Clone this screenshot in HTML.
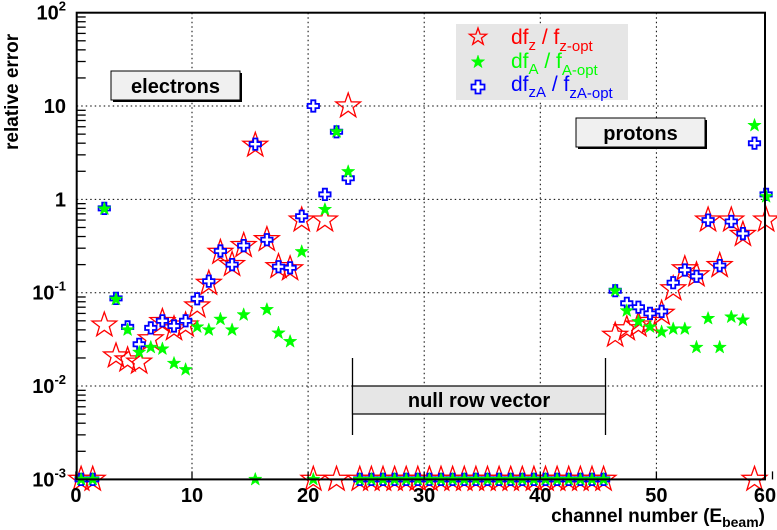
<!DOCTYPE html>
<html><head><meta charset="utf-8"><style>
html,body{margin:0;padding:0;background:#fff;}
svg{display:block;font-family:"Liberation Sans",Arial,sans-serif;}
</style></head><body>
<svg id="chart" width="777" height="530" viewBox="0 0 777 530" xmlns="http://www.w3.org/2000/svg">
<rect x="0" y="0" width="777" height="530" fill="#fff"/>
<g id="grid"></g>
<g id="annot">
  <g>
    <rect x="113" y="73" width="129" height="29" fill="#000"/>
    <rect x="111" y="71" width="129" height="29" fill="#f0f0f0" stroke="#000" stroke-width="1"/>
    <text x="175.5" y="93" text-anchor="middle" font-size="20" font-weight="bold">electrons</text>
  </g>
  <g>
    <rect x="578" y="120" width="129" height="29" fill="#000"/>
    <rect x="576" y="118" width="129" height="29" fill="#f0f0f0" stroke="#000" stroke-width="1"/>
    <text x="640.5" y="140" text-anchor="middle" font-size="20" font-weight="bold">protons</text>
  </g>
  <g>
    <line x1="352.5" y1="358" x2="352.5" y2="435" stroke="#000" stroke-width="1.3"/>
    <line x1="605.5" y1="358" x2="605.5" y2="435" stroke="#000" stroke-width="1.3"/>
    <rect x="352.5" y="386" width="253" height="28" fill="#e6e6e6" stroke="#000" stroke-width="1.2"/>
    <text x="479" y="407" text-anchor="middle" font-size="20" font-weight="bold">null row vector</text>
  </g>
</g>
<g id="marks"></g>
<g id="axes"></g>
<g id="legend">
  <rect x="456" y="24" width="172" height="76" fill="#e6e6e6"/>
  <g>
    <text x="511" y="44" font-size="21" fill="#f00">df<tspan font-size="15" dy="6">z</tspan><tspan dy="-6"> / f</tspan><tspan font-size="15" dy="7">z-opt</tspan></text>
  </g>
  <g>
    <text x="511" y="68" font-size="21" fill="#0f0">df<tspan font-size="15" dy="6">A</tspan><tspan dy="-6">  / f</tspan><tspan font-size="15" dy="7">A-opt</tspan></text>
  </g>
  <g>
    <text x="511" y="91" font-size="21" fill="#00f">df<tspan font-size="15" dy="6">zA</tspan><tspan dy="-6"> / f</tspan><tspan font-size="15" dy="7">zA-opt</tspan></text>
  </g>
</g>
<text x="765" y="522" text-anchor="end" font-size="19" font-weight="bold">channel number (E<tspan font-size="14" dy="5">beam</tspan><tspan dy="-5">)</tspan></text>
<text transform="translate(18,150) rotate(-90)" x="0" y="0" font-size="19" font-weight="bold">relative error</text>
</svg>
<script>
// data (channel n plotted at n+0.45); 0.001 = floor value
const chans = [];
for (let n = 0; n < 60; n++) chans.push(n);
const dfz = [0.001,0.001,0.045,0.021,0.019,0.018,0.032,0.049,0.041,0.045,
 0.072,0.126,0.27,0.20,0.32,3.8,0.37,0.19,0.18,0.60,
 0.001,0.60,0.001,10,0.001,0.001,0.001,0.001,0.001,0.001,
 0.001,0.001,0.001,0.001,0.001,0.001,0.001,0.001,0.001,0.001,
 0.001,0.001,0.001,0.001,0.001,0.001,0.035,0.041,0.045,0.049,
 0.060,0.11,0.18,0.155,0.60,0.195,0.60,0.42,0.001,0.60];
const dfA = [0.001,0.001,0.79,0.085,0.040,0.023,0.026,0.025,0.0175,0.015,
 0.043,0.040,0.052,0.040,0.058,0.001,0.066,0.037,0.030,0.275,
 0.001,0.78,5.3,1.98,0.001,0.001,0.001,0.001,0.001,0.001,
 0.001,0.001,0.001,0.001,0.001,0.001,0.001,0.001,0.001,0.001,
 0.001,0.001,0.001,0.001,0.001,0.001,0.105,0.064,0.049,0.043,
 0.038,0.041,0.041,0.026,0.053,0.026,0.055,0.051,6.2,1.07];
const dfzA = [0.001,0.001,0.80,0.087,0.043,0.028,0.042,0.050,0.044,0.050,
 0.086,0.133,0.28,0.20,0.32,3.9,0.37,0.19,0.185,0.66,
 10,1.13,5.3,1.68,0.001,0.001,0.001,0.001,0.001,0.001,
 0.001,0.001,0.001,0.001,0.001,0.001,0.001,0.001,0.001,0.001,
 0.001,0.001,0.001,0.001,0.001,0.001,0.105,0.077,0.070,0.060,
 0.063,0.128,0.175,0.15,0.60,0.195,0.58,0.43,4.0,1.13];
const xTicks = [0,10,20,30,40,50,60];
const yDecades = [-3,-2,-1,0,1,2];
const yLabels = ["10^-3","10^-2","10^-1","1","10","10^2"];

const NS = "http://www.w3.org/2000/svg";
const L = 76.7, R = 765, T = 12.7, B = 479.4;
const X0 = 75.9, XS = 11.61;
function xs(c){ return X0 + XS * c; }
function ys(v){ return B - (Math.log10(v) + 3) * (B - T) / 5; }
function mk(tag, attrs, parent){
  const e = document.createElementNS(NS, tag);
  for (const k in attrs) e.setAttribute(k, attrs[k]);
  parent.appendChild(e);
  return e;
}
function starPts(cx, cy, r){
  const ri = r * 0.4; let p = [];
  for (let i = 0; i < 10; i++){
    const a = -Math.PI/2 + i * Math.PI/5;
    const rr = i % 2 ? ri : r;
    p.push((cx + rr*Math.cos(a)).toFixed(1) + "," + (cy + rr*Math.sin(a)).toFixed(1));
  }
  return p.join(" ");
}
function crossPts(cx, cy, s, w){
  const p = [[-w,-s],[w,-s],[w,-w],[s,-w],[s,w],[w,w],[w,s],[-w,s],[-w,w],[-s,w],[-s,-w],[-w,-w]];
  return p.map(q => (cx+q[0]).toFixed(1)+","+(cy+q[1]).toFixed(1)).join(" ");
}
const grid = document.getElementById("grid");
xTicks.forEach(t => {
  if (t > 0 && t < 60) {
    const gl = mk("line", {x1: xs(t), x2: xs(t), y1: T, y2: B, stroke: "#000", "stroke-width": 1, "stroke-dasharray": "1.5,3"}, grid);
    
    
  }
});
yDecades.forEach(d => {
  if (d > -3 && d < 2) {
    const gl = mk("line", {x1: L, x2: R, y1: ys(Math.pow(10,d)), y2: ys(Math.pow(10,d)), stroke: "#000", "stroke-width": 1, "stroke-dasharray": "1.5,3"}, grid);
    
    
  }
});
const marks = document.getElementById("marks");
const gz = mk("g", {}, marks);


const gzA = mk("g", {}, marks);


const gA = mk("g", {}, marks);


chans.forEach((n, i) => {
  const cx = xs(n + 0.45);
  const s1 = mk("polygon", {points: starPts(cx, ys(dfz[i]), 13), fill: "none", stroke: "#f00", "stroke-width": 1.3}, gz);
  
  
  const s3 = mk("polygon", {points: crossPts(cx, ys(dfzA[i]), 5.7, 2.1), fill: "#fff", stroke: "#00f", "stroke-width": 1.8}, gzA);
  
  
  const s2 = mk("polygon", {points: starPts(cx, ys(dfA[i]), 7), fill: "#0f0", stroke: "#0f0", "stroke-width": 0.5}, gA);
  
  
});
// legend markers
const lg = document.getElementById("legend");
const lm1 = mk("polygon", {points: starPts(478, 37, 9), fill: "none", stroke: "#f00", "stroke-width": 1.3}, lg);


const lm2 = mk("polygon", {points: starPts(478, 62, 7), fill: "#0f0", stroke: "#0f0", "stroke-width": 0.5}, lg);


const lm3 = mk("polygon", {points: crossPts(478, 87, 6.5, 2.5), fill: "#fff", stroke: "#00f", "stroke-width": 1.8}, lg);


// axes
const axes = document.getElementById("axes");
const fr = mk("rect", {x: L, y: T, width: R - L, height: B - T, fill: "none", stroke: "#000", "stroke-width": 2}, axes);


yDecades.forEach((d, i) => {
  if (d < 2) {
    for (let m = 2; m <= 9; m++) {
      const yy = ys(m * Math.pow(10, d));
      const tk = mk("line", {x1: L, x2: L + 9, y1: yy, y2: yy, stroke: "#000", "stroke-width": 1.3}, axes);
      
      
    }
  }
  const yy = ys(Math.pow(10, d));
  const lab = yLabels[i];
  const t = mk("text", {x: 66, y: yy + 7, "text-anchor": "end", "font-size": 20, "font-weight": "bold"}, axes);
  
  
  if (lab.indexOf("^") >= 0) {
    const parts = lab.split("^");
    t.textContent = parts[0];
    const sp = mk("tspan", {dy: -9, "font-size": 13}, t);
    sp.textContent = parts[1];
  } else {
    t.textContent = lab;
  }
});
xTicks.forEach(t => {
  const xx = xs(t);
  const tk = mk("line", {x1: xx, x2: xx, y1: B, y2: B - 8, stroke: "#000", "stroke-width": 1.3}, axes);
  
  
  const tl = mk("text", {x: Math.min(xx, 765), y: 502, "text-anchor": "middle", "font-size": 20, "font-weight": "bold"}, axes);
  
  
  tl.textContent = t;
});
</script>
</body></html>
